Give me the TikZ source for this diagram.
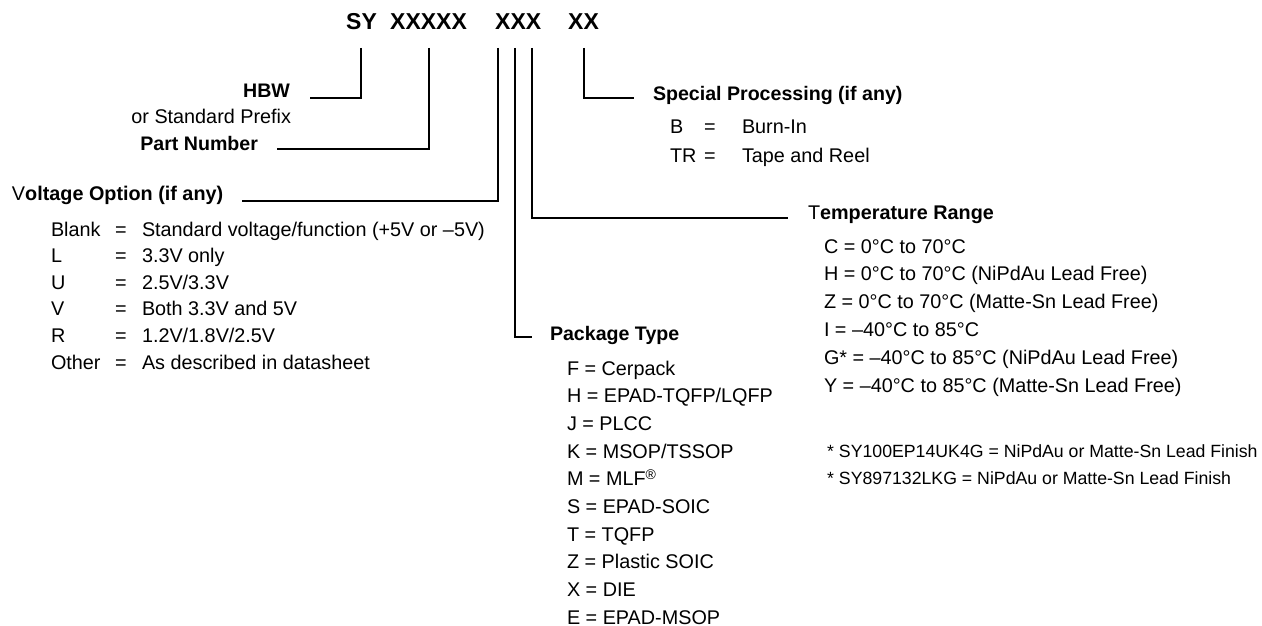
\documentclass[tikz,border=0pt]{standalone}
\usepackage{fontspec}
\setmainfont{Liberation Sans}
\begin{document}
\begin{tikzpicture}[x=1pt,y=-1pt,
  txt/.style={anchor=base west,inner sep=0pt,outer sep=0pt,font=\fontsize{19.8}{23}\selectfont},
  txtr/.style={anchor=base east,inner sep=0pt,outer sep=0pt,font=\fontsize{19.8}{23}\selectfont},
  head/.style={txt,font=\fontsize{19.6}{23}\selectfont\bfseries},
  headr/.style={txtr,font=\fontsize{19.6}{23}\selectfont\bfseries},
  ttl/.style={anchor=base west,inner sep=0pt,font=\fontsize{23}{27}\selectfont\bfseries},
  foot/.style={anchor=base west,inner sep=0pt,font=\fontsize{17.7}{21}\selectfont},
  conn/.style={line width=2.2pt,line join=miter}]
\useasboundingbox (0,0) rectangle (1262,626);
% title
\node[ttl] (sy) at (346,30) {SY};
\node[ttl] (x5) at (390,30) {XXXXX};
\node[ttl] (x3) at (495,30) {XXX};
\node[ttl] (x2) at (568,30) {XX};
% connector tops
\coordinate (tsy) at (361,48);
\coordinate (tpn) at (429,48);
\coordinate (tv) at (498,48);
\coordinate (tp) at (515,48);
\coordinate (tt) at (532,48);
\coordinate (tx) at (584,48);
% connector ends
\coordinate (esy) at (310,98);
\coordinate (epn) at (277,149);
\coordinate (ev) at (242,201);
\coordinate (ep) at (532,337);
\coordinate (et) at (788,218);
\coordinate (ex) at (634,98);
\draw[conn] (tsy) |- (esy);
\draw[conn] (tpn) |- (epn);
\draw[conn] (tv) |- (ev);
\draw[conn] (tp) |- (ep);
\draw[conn] (tt) |- (et);
\draw[conn] (tx) |- (ex);
% HBW / part number
\node[headr] (hbw) at (290,98) {HBW};
\node[txtr] (prefix) at (291,123) {or Standard Prefix};
\node[headr] (pn) at (258,150) {Part Number};
% voltage
\node[txt] (vh) at (12,200) {V\textbf{oltage Option (if any)}};
\foreach \lab/\val [count=\i from 0] in {Blank/Standard voltage\slash function (+5V or –5V),L/3.3V only,U/2.5V\slash 3.3V,V/Both 3.3V and 5V,R/1.2V\slash 1.8V\slash 2.5V,Other/As described in datasheet}{
  \node[txt] (vl\i) at (51,236+26.6*\i) {\lab};
  \node[txt] (ve\i) at (115,236+26.6*\i) {=};
  \node[txt] (vv\i) at (142,236+26.6*\i) {\val};
}
% special processing
\node[head] (sp) at (653,100) {Special Processing (if any)};
\node[txt] (spl1) at (670,133) {B};
\node[txt] (spe1) at (704,133) {=};
\node[txt] (spv1) at (742,133) {Burn-In};
\node[txt] (spl2) at (670,162) {TR};
\node[txt] (spe2) at (704,162) {=};
\node[txt] (spv2) at (742,162) {Tape and Reel};
% package type
\node[head] (pt) at (550,340) {Package Type};
\foreach \t [count=\i from 0] in {F = Cerpack,H = EPAD-TQFP\slash LQFP,J = PLCC,K = MSOP\slash TSSOP,M = MLF{\fontsize{14}{14}\selectfont\raisebox{0.45em}{®}},S = EPAD-SOIC,T = TQFP,Z = Plastic SOIC,X = DIE,E = EPAD-MSOP}{
  \node[txt] (p\i) at (567,375+27.7*\i) {\t};
}
% temperature
\node[txt] (th) at (808,219) {T\textbf{emperature Range}};
\foreach \t [count=\i from 0] in {C = 0°C to 70°C,H = 0°C to 70°C (NiPdAu Lead Free),Z = 0°C to 70°C (Matte-Sn Lead Free),I = –40°C to 85°C,G* = –40°C to 85°C (NiPdAu Lead Free),Y = –40°C to 85°C (Matte-Sn Lead Free)}{
  \node[txt] (t\i) at (824,253+27.8*\i) {\t};
}
% footnotes
\node[foot] (f1) at (827,457) {* SY100EP14UK4G = NiPdAu or Matte-Sn Lead Finish};
\node[foot] (f2) at (827,484) {* SY897132LKG = NiPdAu or Matte-Sn Lead Finish};
\end{tikzpicture}
\end{document}
